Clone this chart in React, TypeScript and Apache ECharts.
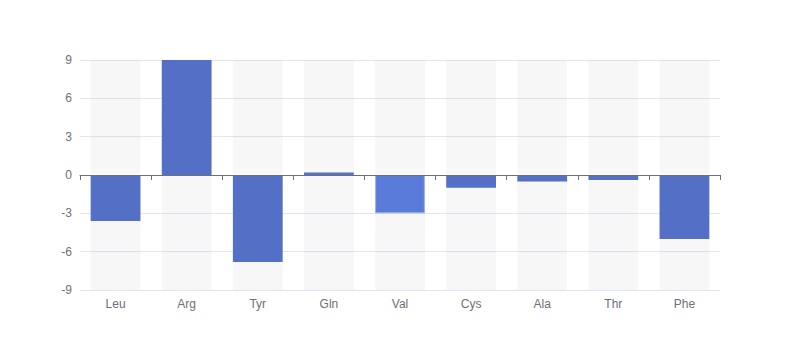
import React, { useEffect, useRef } from "react";
import * as echarts from "echarts";

const categories = ["Leu", "Arg", "Tyr", "Gln", "Val", "Cys", "Ala", "Thr", "Phe"];
const values = [-3.6, 9, -6.8, 0.2, -3.0, -1.0, -0.5, -0.4, -5.0];
const yTicks = { min: -9, max: 9, interval: 3 };

export default function App() {
  const ref = useRef<HTMLDivElement>(null);
  useEffect(() => {
    document.body.style.margin = "0";
    const chart = echarts.init(ref.current!, null, { renderer: "svg" });
    chart.setOption({
      animation: false,
      grid: { left: "10%", right: "10%", top: 60, bottom: 70 },
      xAxis: [
        {
          type: "category",
          data: categories,
          position: "bottom",
          z: 10,
          axisLine: { onZero: true, lineStyle: { color: "#6e7079" } },
          axisTick: { show: true },
          axisLabel: { show: false },
        },
        {
          type: "category",
          data: categories,
          position: "bottom",
          axisLine: { show: false, onZero: false },
          axisTick: { show: false },
          axisLabel: { color: "#6e7079", fontSize: 12 },
        },
      ],
      yAxis: {
        type: "value",
        min: yTicks.min,
        max: yTicks.max,
        interval: yTicks.interval,
        axisLabel: { color: "#6e7079", fontSize: 12 },
        splitLine: { lineStyle: { color: "#e0e6f1" } },
      },
      series: [
        {
          type: "bar",
          xAxisIndex: 0,
          data: values.map((v, i) =>
            i === 4
              ? { value: v, itemStyle: { color: "#5a7bd9", borderColor: "#9bb0ea", borderWidth: 1 } }
              : v
          ),
          barWidth: "70%",
          showBackground: true,
          backgroundStyle: { color: "rgba(180,180,180,0.1)" },
          itemStyle: { color: "#5470c6" },
        },
      ],
    });
    return () => chart.dispose();
  }, []);
  return <div ref={ref} style={{ width: 800, height: 360 }} />;
}
